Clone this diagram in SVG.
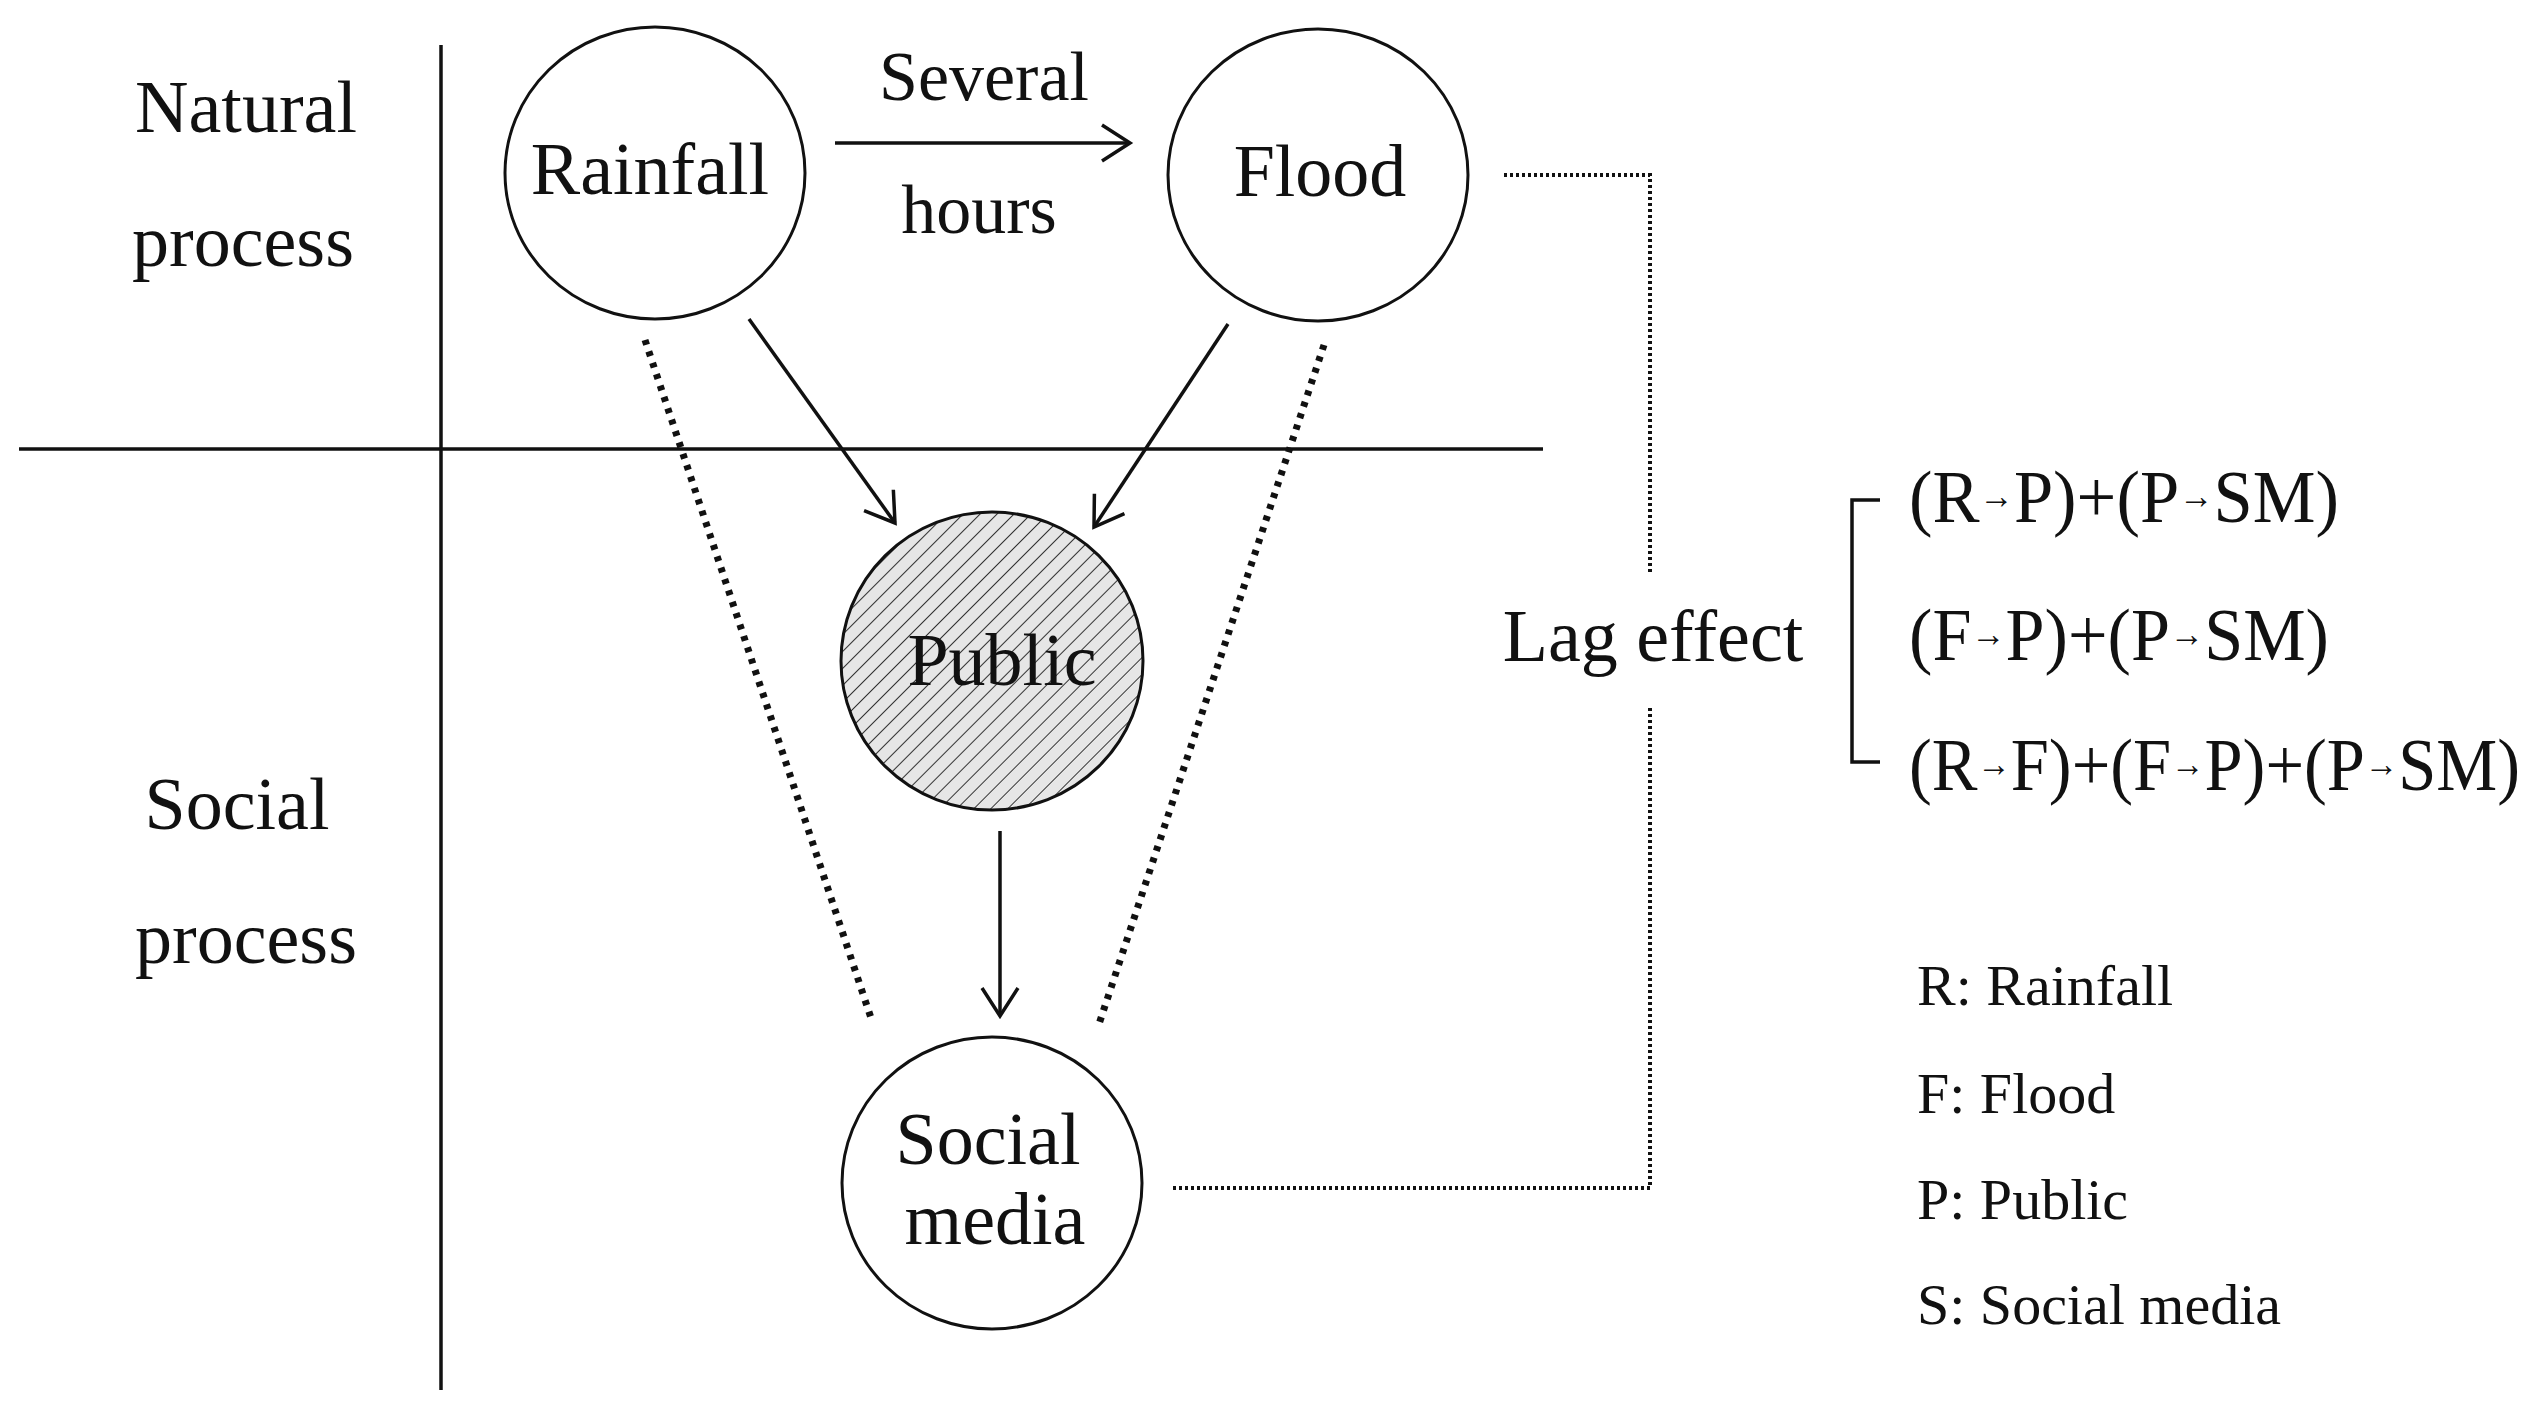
<svg xmlns="http://www.w3.org/2000/svg" width="2541" height="1413" viewBox="0 0 2541 1413">
<style>
text{font-family:"Liberation Serif","DejaVu Serif",serif;fill:#111;}
.big{font-size:74px;}
.mid{font-size:70px;}
.leg{font-size:58px;}
.sm{font-size:36px;}
.node{fill:#fff;stroke:#111;stroke-width:3;}
.ln{stroke:#111;stroke-width:3.5;fill:none;}
.dot{stroke:#111;stroke-width:7;stroke-dasharray:5 7;fill:none;}
.fine{stroke:#111;stroke-width:4;stroke-dasharray:3 3;fill:none;}
</style>
<defs>
<pattern id="hatch" width="12" height="12" patternUnits="userSpaceOnUse" patternTransform="rotate(45)">
<rect width="12" height="12" fill="#e6e6e6"/>
<line x1="0" y1="0" x2="0" y2="12" stroke="#333" stroke-width="2"/>
</pattern>
<marker id="arr" markerWidth="36" markerHeight="40" refX="30" refY="20" orient="auto" markerUnits="userSpaceOnUse">
<path d="M2,2 L30,20 L2,38" fill="none" stroke="#111" stroke-width="3.5"/>
</marker>
</defs>
<g id="grid">
<line class="ln" x1="441" y1="45" x2="441" y2="1390"/>
<line class="ln" x1="19" y1="449" x2="1543" y2="449"/>
</g>
<g id="labels">
<text class="big" x="246" y="132" text-anchor="middle">Natural</text>
<text class="big" x="243" y="266" text-anchor="middle">process</text>
<text class="big" x="237" y="829" text-anchor="middle">Social</text>
<text class="big" x="246" y="963" text-anchor="middle">process</text>
</g>
<g id="connectors">
<line class="ln" x1="835" y1="143" x2="1130" y2="143" marker-end="url(#arr)"/>
<line class="ln" x1="749" y1="319" x2="895" y2="523" marker-end="url(#arr)"/>
<line class="ln" x1="1228" y1="324" x2="1094" y2="527" marker-end="url(#arr)"/>
<line class="ln" x1="1000" y1="831" x2="1000" y2="1016" marker-end="url(#arr)"/>
<line class="dot" x1="645" y1="340" x2="872" y2="1021"/>
<line class="dot" x1="1324" y1="345" x2="1099" y2="1024"/>
<polyline class="fine" points="1504,175 1650,175 1650,575"/>
<polyline class="fine" points="1650,708 1650,1188 1173,1188"/>
<polyline class="ln" points="1880,500 1852,500 1852,762 1880,762"/>
</g>
<g id="edge-label">
<text class="mid" x="984" y="100" text-anchor="middle">Several</text>
<text class="mid" x="979" y="233" text-anchor="middle">hours</text>
</g>
<g id="rainfall">
<ellipse class="node" cx="655" cy="173" rx="150" ry="146"/>
<text class="big" x="650" y="194" text-anchor="middle">Rainfall</text>
</g>
<g id="flood">
<ellipse class="node" cx="1318" cy="175" rx="150" ry="146"/>
<text class="big" x="1320" y="196" text-anchor="middle">Flood</text>
</g>
<g id="public">
<ellipse cx="992" cy="661" rx="151" ry="149" fill="url(#hatch)" stroke="#111" stroke-width="3"/>
<text class="big" x="1002" y="685" text-anchor="middle">Public</text>
</g>
<g id="social-media">
<ellipse class="node" cx="992" cy="1183" rx="150" ry="146"/>
<text class="big" x="988" y="1164" text-anchor="middle">Social</text>
<text class="big" x="995" y="1244" text-anchor="middle">media</text>
</g>
<g id="lag">
<text class="big" x="1653" y="661" text-anchor="middle">Lag effect</text>
<text class="big" x="1909" y="522" textLength="430" lengthAdjust="spacingAndGlyphs">(R<tspan class="sm" dy="-14">→</tspan><tspan dy="14">P)+(P</tspan><tspan class="sm" dy="-14">→</tspan><tspan dy="14">SM)</tspan></text>
<text class="big" x="1909" y="660" textLength="420" lengthAdjust="spacingAndGlyphs">(F<tspan class="sm" dy="-14">→</tspan><tspan dy="14">P)+(P</tspan><tspan class="sm" dy="-14">→</tspan><tspan dy="14">SM)</tspan></text>
<text class="big" x="1909" y="790" textLength="611" lengthAdjust="spacingAndGlyphs">(R<tspan class="sm" dy="-14">→</tspan><tspan dy="14">F)+(F</tspan><tspan class="sm" dy="-14">→</tspan><tspan dy="14">P)+(P</tspan><tspan class="sm" dy="-14">→</tspan><tspan dy="14">SM)</tspan></text>
</g>
<g id="legend">
<text class="leg" x="1917" y="1005">R: Rainfall</text>
<text class="leg" x="1917" y="1113">F: Flood</text>
<text class="leg" x="1917" y="1219">P: Public</text>
<text class="leg" x="1917" y="1324">S: Social media</text>
</g>
</svg>
